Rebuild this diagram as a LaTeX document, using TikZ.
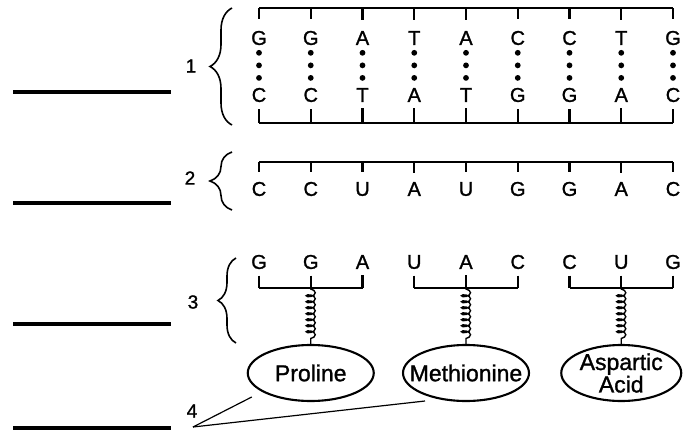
\documentclass[tikz,border=0pt]{standalone}
\usepackage{fontspec}
\setmainfont{Liberation Sans}[FakeBold=1.2]
\usetikzlibrary{calc,shapes.geometric,decorations.pathmorphing,decorations.pathreplacing}

\begin{document}
\begin{tikzpicture}[x=1pt,y=-1pt,line width=2.1pt]
  % Global column layout of the bases
  \def\xo{259}    % first column
  \def\dx{51.75}  % column step
  \tikzset{
    nucl/.style     = {font=\fontsize{20}{22}\selectfont, inner sep=0pt},
    num/.style      = {font=\fontsize{19}{21}\selectfont, inner sep=0pt},
    answer/.style   = {line width=3.2pt},
    amino/.style    = {draw, ellipse, minimum width=126pt, minimum height=56pt, inner sep=0pt},
    aminotext/.style = {font=\fontsize{23}{21}\selectfont, align=center, inner sep=0pt},
    spring/.style   = {decorate, line width=1.4pt,
                       decoration={coil, amplitude=4.5pt, segment length=6pt, aspect=0.5,
                                   pre length=1pt, post length=2pt}},
    grp/.style      = {decorate, decoration={brace, amplitude=#1}, line width=1.6pt},
    pointer/.style  = {line width=1.2pt}
  }
  \useasboundingbox (0,0) rectangle (683,431);

  % --- 1: DNA double strand ---
  \foreach \b [count=\i from 0] in {G,G,A,T,A,C,C,T,G}
    \node[nucl] (t\i) at (\xo+\dx*\i,38) {\b};
  \foreach \b [count=\i from 0] in {C,C,T,A,T,G,G,A,C}
    \node[nucl] (b\i) at (\xo+\dx*\i,95) {\b};
  \foreach \i in {0,...,8} {
    \coordinate (tu\i) at (\xo+\dx*\i,8);
    \coordinate (td\i) at (\xo+\dx*\i,123);
    \draw[shorten >=10.5pt] (tu\i) -- (t\i);
    \draw[shorten >=5.5pt] (td\i) -- (b\i);
    % hydrogen bonds
    \foreach \p in {0.26,0.48,0.70}
      \fill ($(t\i)!\p!(b\i)$) circle (2.9pt);
  }
  \draw (tu0) -- (tu8);
  \draw (td0) -- (td8);

  % --- 2: mRNA strand ---
  \foreach \b [count=\i from 0] in {C,C,U,A,U,G,G,A,C}
    \node[nucl] (r\i) at (\xo+\dx*\i,189) {\b};
  \foreach \i in {0,...,8} {
    \coordinate (ru\i) at (\xo+\dx*\i,162);
    \draw[shorten >=8.5pt] (ru\i) -- (r\i);
  }
  \draw (ru0) -- (ru8);

  % --- 3: tRNA anticodons with amino acids ---
  \foreach \b [count=\i from 0] in {G,G,A,U,A,C,C,U,G}
    \node[nucl] (a\i) at (\xo+\dx*\i,262) {\b};
  \foreach \i in {0,...,8} {
    \coordinate (ak\i) at (\xo+\dx*\i,288);
    \draw[shorten <=5.5pt] (a\i) -- (ak\i);
  }
  \draw (ak0) -- (ak2);
  \draw (ak3) -- (ak5);
  \draw (ak6) -- (ak8);

  \node[amino, label={[aminotext]center:Proline}] (pro) at ($(ak1)+(0,85)$) {};
  \node[amino, label={[aminotext]center:Methionine}] (met) at ($(ak4)+(0,85)$) {};
  \node[amino, minimum width=120pt, label={[aminotext]center:{Aspartic\\Acid}}] (asp) at ($(ak7)+(0,85)$) {};

  \draw[spring] (ak1) -- (pro.north);
  \draw[spring] (ak4) -- (met.north);
  \draw[spring] (ak7) -- (asp.north);

  % --- Braces and numbers ---
  \draw[grp=22pt] (232,125) -- (232,8);
  \draw[grp=22pt] (232,210) -- (232,152);
  \draw[grp=18pt] (236,343) -- (236,258);

  \node[num] (n1) at (191,66) {1};
  \node[num] (n2) at (190,178) {2};
  \node[num] (n3) at (193,302) {3};
  \node[num] (n4) at (192,411) {4};

  % --- Pointer lines of label 4 ---
  \coordinate (hub) at (193,427);
  \coordinate (pa) at ($(pro.center)+(-59,24)$);
  \coordinate (pb) at ($(met.center)+(-41,28)$);
  \draw[pointer] (hub) -- (pa);
  \draw[pointer] (hub) -- (pb);

  % --- Answer blanks ---
  \foreach \y in {92,203,324,428}
    \draw[answer] (13,\y) -- (171,\y);
\end{tikzpicture}
\end{document}
